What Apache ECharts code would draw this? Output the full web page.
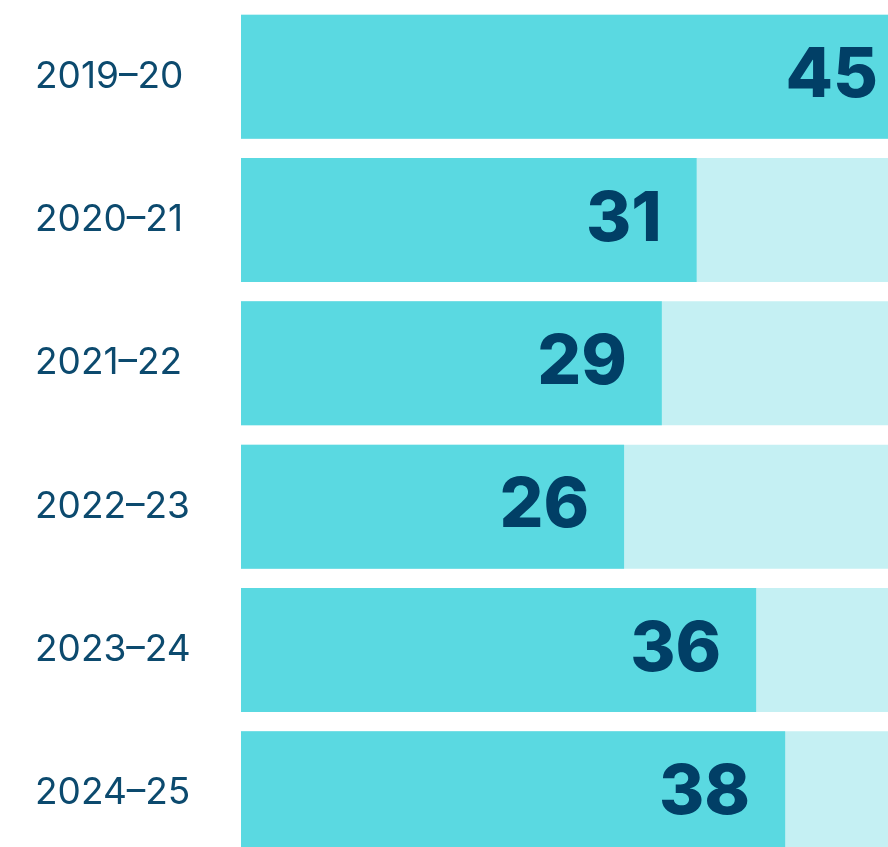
<!DOCTYPE html>
<html>
<head>
<meta charset="utf-8">
<script src="https://cdn.jsdelivr.net/npm/echarts@6/dist/echarts.min.js"></script>
<style>
  html, body { margin: 0; padding: 0; background: #fff; }
  #chart { width: 888px; height: 847px; }
</style>
</head>
<body>
<div id="chart"></div>
<script>
// 年度 + 数值（标签显示取整）
var years = ['2019–20', '2020–21', '2021–22', '2022–23', '2023–24', '2024–25']
var values = [45, 31.4, 29.0, 26.4, 35.5, 37.5]
var axisMax = 45

var chart = echarts.init(document.getElementById('chart'))

var seriesData = values.map(function (v, i) {
  // 第一条满格，标签贴近右边
  if (i === 0) return { value: v, label: { distance: 16 } }
  return v
})

var option = {
  animation: false,
  grid: {
    left: 241,
    top: 5,
    width: 653,
    height: 860,
    outerBoundsMode: 'none'
  },
  xAxis: {
    type: 'value',
    min: 0,
    max: axisMax,
    show: false
  },
  yAxis: {
    type: 'category',
    data: years,
    inverse: true,
    axisLine: { show: false },
    axisTick: { show: false },
    splitLine: { show: false },
    axisLabel: {
      align: 'left',
      margin: 206,
      color: '#0c4a6e',
      fontFamily: 'Inter',
      fontSize: 37,
      fontWeight: 400
    }
  },
  series: [
    {
      type: 'bar',
      data: seriesData,
      barWidth: 124,
      showBackground: true,
      backgroundStyle: { color: '#c5f0f3' },
      itemStyle: { color: '#5ad9e1' },
      label: {
        show: true,
        position: 'insideRight',
        distance: 35,
        color: '#013f66',
        fontFamily: 'Inter',
        fontWeight: 800,
        fontSize: 69,
        formatter: function (p) { return Math.round(p.value) }
      }
    }
  ]
}

chart.setOption(option)
</script>
</body>
</html>
